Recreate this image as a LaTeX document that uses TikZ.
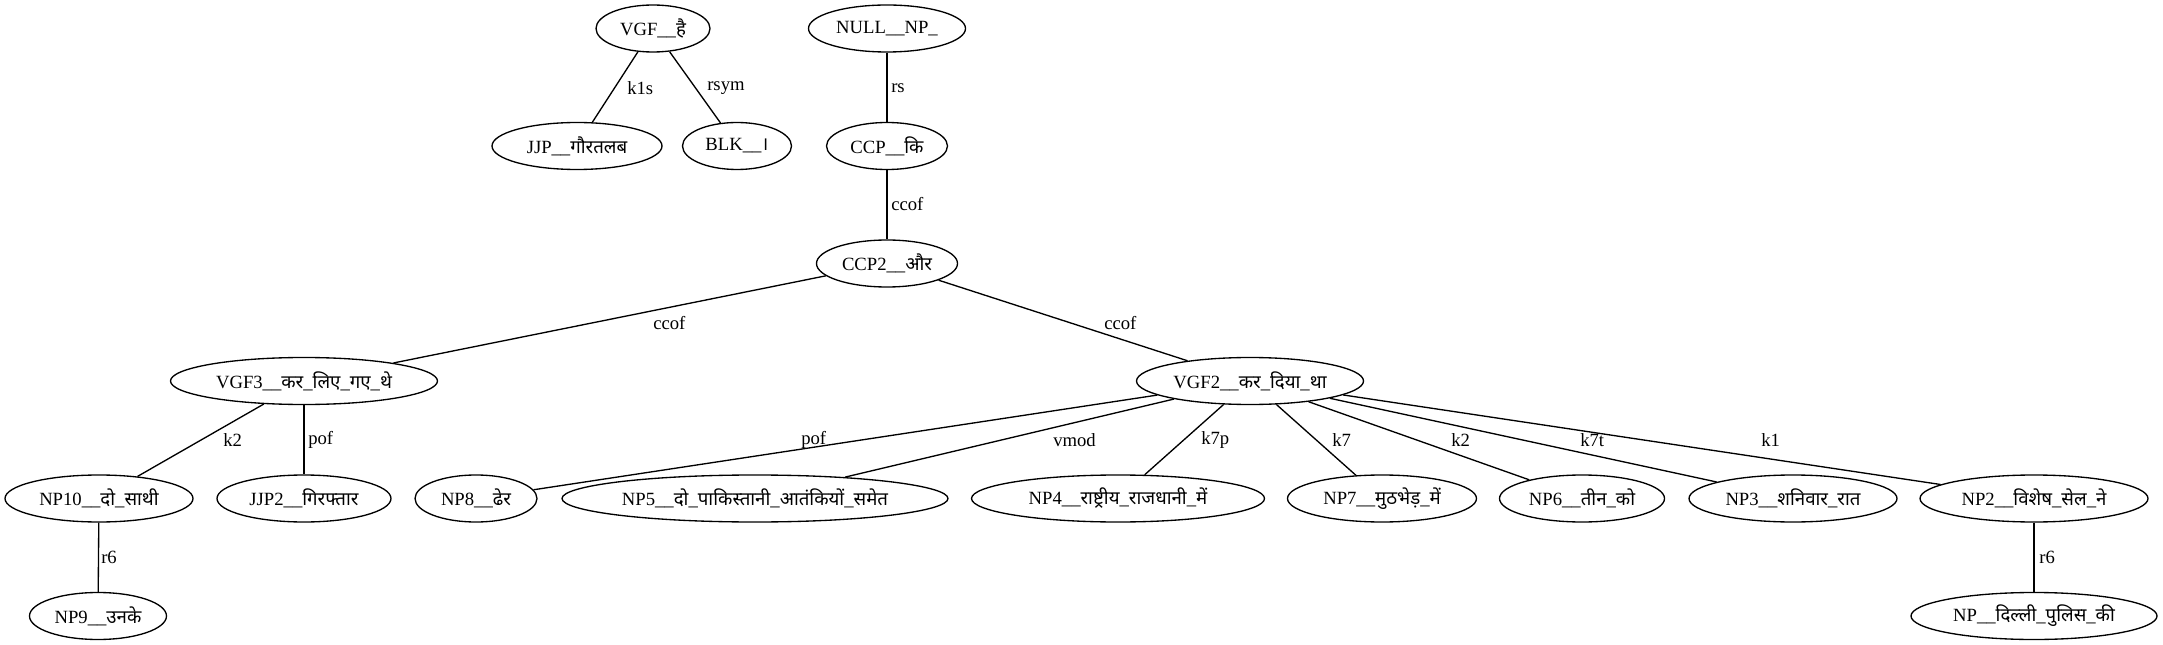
\documentclass[tikz,border=0pt]{standalone}
\usepackage{fontspec}
\setmainfont{Liberation Serif}
\newfontfamily\dv[Script=Devanagari]{Noto Sans}
\usetikzlibrary{shapes.geometric}
\tikzset{
  nd/.style={ellipse, draw=black, line width=1pt, inner sep=0pt,
    minimum height=35.25pt, minimum width=#1*0.75pt,
    font=\fontsize{14}{16}\selectfont},
  lbl/.style={inner sep=0pt, anchor=west, font=\fontsize{14}{16}\selectfont},
  edge/.style={draw=black, line width=1pt}
}
\newcommand{\tx}[1]{\makebox[0pt]{#1}}
\begin{document}
\begin{tikzpicture}[x=0.75pt, y=-0.75pt]
\useasboundingbox (0,0) rectangle (2163,645);
% rank 0
\node[nd=114] (vgf)  at (653,28.5) {\tx{VGF\_\_{\dv है}}};
\node[nd=157] (null) at (887,28.5) {\tx{NULL\_\_NP\_}};
% rank 1
\node[nd=170] (jjp) at (577,146) {\tx{JJP\_\_{\dv गौरतलब}}};
\node[nd=109] (blk) at (737,146) {\tx{BLK\_\_{\dv ।}}};
\node[nd=121] (ccp) at (887,146) {\tx{CCP\_\_{\dv कि}}};
% rank 2
\node[nd=141] (ccp2) at (887,263.5) {\tx{CCP2\_\_{\dv और}}};
% rank 3
\node[nd=267] (vgf3) at (304,381) {\tx{VGF3\_\_{\dv कर}\_{\dv लिए}\_{\dv गए}\_{\dv थे}}};
\node[nd=227] (vgf2) at (1250,381) {\tx{VGF2\_\_{\dv कर}\_{\dv दिया}\_{\dv था}}};
% rank 4
\node[nd=188] (np10) at (99,498.5) {\tx{NP10\_\_{\dv दो}\_{\dv साथी}}};
\node[nd=174] (jjp2) at (304,498.5) {\tx{JJP2\_\_{\dv गिरफ्तार}}};
\node[nd=122] (np8) at (476,498.5) {\tx{NP8\_\_{\dv ढेर}}};
\node[nd=386] (np5) at (755,498.5) {\tx{NP5\_\_{\dv दो}\_{\dv पाकिस्तानी}\_{\dv आतंकियों}\_{\dv समेत}}};
\node[nd=293] (np4) at (1118,498.5) {\tx{NP4\_\_{\dv राष्ट्रीय}\_{\dv राजधानी}\_{\dv में}}};
\node[nd=189] (np7) at (1382,498.5) {\tx{NP7\_\_{\dv मुठभेड़}\_{\dv में}}};
\node[nd=165] (np6) at (1582,498.5) {\tx{NP6\_\_{\dv तीन}\_{\dv को}}};
\node[nd=208] (np3) at (1793,498.5) {\tx{NP3\_\_{\dv शनिवार}\_{\dv रात}}};
\node[nd=228] (np2) at (2034,498.5) {\tx{NP2\_\_{\dv विशेष}\_{\dv सेल}\_{\dv ने}}};
% rank 5
\node[nd=137] (np9) at (98,616) {\tx{NP9\_\_{\dv उनके}}};
\node[nd=246] (np)  at (2034,616) {\tx{NP\_\_{\dv दिल्ली}\_{\dv पुलिस}\_{\dv की}}};
% edges
\draw[edge] (vgf) -- (jjp);
\draw[edge] (vgf) -- (blk);
\draw[edge] (null) -- (ccp);
\draw[edge] (ccp) -- (ccp2);
\draw[edge] (ccp2) -- (vgf3);
\draw[edge] (ccp2) -- (vgf2);
\draw[edge] (vgf3) -- (np10);
\draw[edge] (vgf3) -- (jjp2);
\draw[edge] (vgf2) -- (np8);
\draw[edge] (vgf2) -- (np5);
\draw[edge] (vgf2) -- (np4);
\draw[edge] (vgf2) -- (np7);
\draw[edge] (vgf2) -- (np6);
\draw[edge] (vgf2) -- (np3);
\draw[edge] (vgf2) -- (np2);
\draw[edge] (np10) -- (np9);
\draw[edge] (np2) -- (np);
% edge labels
\node[lbl] (l1)  at (627,88) {k1s};
\node[lbl] (l2)  at (707,88) {rsym};
\node[lbl] (l3)  at (891,88) {rs};
\node[lbl] (l4)  at (891,204) {ccof};
\node[lbl] (l5)  at (653,323) {ccof};
\node[lbl] (l6)  at (1104,323) {ccof};
\node[lbl] (l7)  at (223,440) {k2};
\node[lbl] (l8)  at (308,440) {pof};
\node[lbl] (l9)  at (801,440) {pof};
\node[lbl] (l10) at (1053,440) {vmod};
\node[lbl] (l11) at (1201,440) {k7p};
\node[lbl] (l12) at (1332,440) {k7};
\node[lbl] (l13) at (1451,440) {k2};
\node[lbl] (l14) at (1580,440) {k7t};
\node[lbl] (l15) at (1761,440) {k1};
\node[lbl] (l16) at (101,557) {r6};
\node[lbl] (l17) at (2039,557) {r6};
\end{tikzpicture}
\end{document}
